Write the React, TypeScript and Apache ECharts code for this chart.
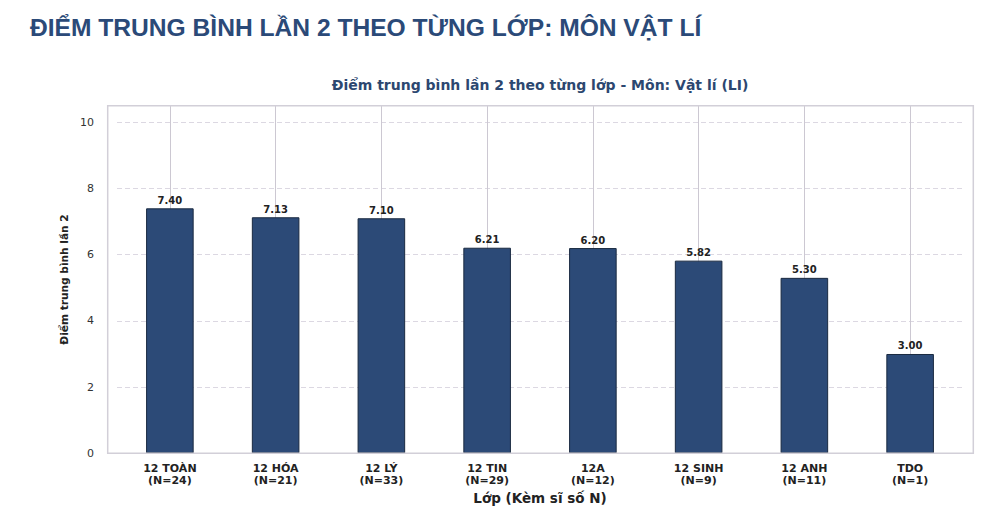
import React, { useEffect, useRef } from "react";
import * as echarts from "echarts";

const classNames = ["12 TOÀN", "12 HÓA", "12 LÝ", "12 TIN", "12A", "12 SINH", "12 ANH", "TDO"];
const classSizes = [24, 21, 33, 29, 12, 9, 11, 1];
const averages = [7.4, 7.13, 7.1, 6.21, 6.2, 5.82, 5.3, 3.0];
const yTicks = [0, 2, 4, 6, 8, 10];

const TITLE_FONT = "'Liberation Sans', Arial, sans-serif";
const FONT = "'DejaVu Sans', sans-serif";

export default function App() {
  const ref = useRef<HTMLDivElement>(null);
  useEffect(() => {
    document.body.style.margin = "0";
    if (!ref.current) return;
    const chart = echarts.init(ref.current, undefined, { renderer: "svg" });
    const categories = classNames.map((c, i) => `${c}\n(N=${classSizes[i]})`);
    chart.setOption({
      animation: false,
      backgroundColor: "#ffffff",
      textStyle: { fontFamily: FONT },
      title: [
        {
          text: "ĐIỂM TRUNG BÌNH LẦN 2 THEO TỪNG LỚP: MÔN VẬT LÍ",
          left: 30,
          top: 15,
          padding: 0,
          textStyle: { fontFamily: TITLE_FONT, fontSize: 24.6, fontWeight: "bold", color: "#2b4a78" },
        },
        {
          text: "Điểm trung bình lần 2 theo từng lớp - Môn: Vật lí (LI)",
          left: 540,
          textAlign: "center",
          top: 78,
          padding: 0,
          textStyle: { fontFamily: FONT, fontSize: 14, fontWeight: "bold", color: "#2c4770" },
        },
      ],
      grid: { left: 117, right: 37, top: 105.7, bottom: 68.7, containLabel: false },
      xAxis: {
        type: "category",
        data: categories,
        axisLine: { show: false },
        axisTick: { show: false },
        axisLabel: {
          margin: 9,
          fontSize: 11,
          fontWeight: "bold",
          color: "#222",
          lineHeight: 12,
          fontFamily: FONT,
        },
        name: "Lớp (Kèm sĩ số N)",
        nameLocation: "middle",
        nameGap: 33,
        nameTextStyle: { fontSize: 13.5, fontWeight: "bold", color: "#222", fontFamily: FONT },
      },
      yAxis: {
        type: "value",
        min: 0,
        max: 10.5,
        interval: 2,
        axisLine: { show: false },
        axisTick: { show: false },
        axisLabel: {
          margin: 23,
          fontSize: 11,
          color: "#333",
          fontFamily: FONT,
          formatter: (v: number) => (yTicks.includes(v) ? String(v) : ""),
        },
        splitLine: { lineStyle: { color: "#dcd8e2", type: [5, 3], width: 1 } },
        name: "Điểm trung bình lần 2",
        nameLocation: "middle",
        nameRotate: 90,
        nameGap: 47,
        nameTextStyle: { fontSize: 10.6, fontWeight: "bold", color: "#222", fontFamily: FONT },
      },
      series: [
        {
          type: "line",
          data: [],
          z: 1,
          silent: true,
          markLine: {
            z: 1,
            silent: true,
            symbol: ["none", "none"],
            label: { show: false },
            lineStyle: { color: "#ccc8d2", width: 1, type: "solid" },
            data: categories.map((c) => ({ xAxis: c })),
          },
        },
        {
          type: "bar",
          z: 3,
          data: averages,
          barWidth: "45%",
          itemStyle: { color: "#2c4a77", borderColor: "#1a2a40", borderWidth: 1 },
          label: {
            show: true,
            position: "top",
            distance: 3,
            fontSize: 10,
            fontWeight: "bold",
            color: "#222",
            fontFamily: FONT,
            formatter: (p: any) => Number(p.value).toFixed(2),
          },
        },
      ],
      graphic: [
        {
          type: "rect",
          z: 10,
          silent: true,
          shape: { x: 107.7, y: 105.7, width: 865.6, height: 347.6 },
          style: { fill: "none", stroke: "#d2cfd8", lineWidth: 1.5 },
        },
      ],
    });
    return () => chart.dispose();
  }, []);
  return <div ref={ref} style={{ width: 1000, height: 522 }} />;
}
